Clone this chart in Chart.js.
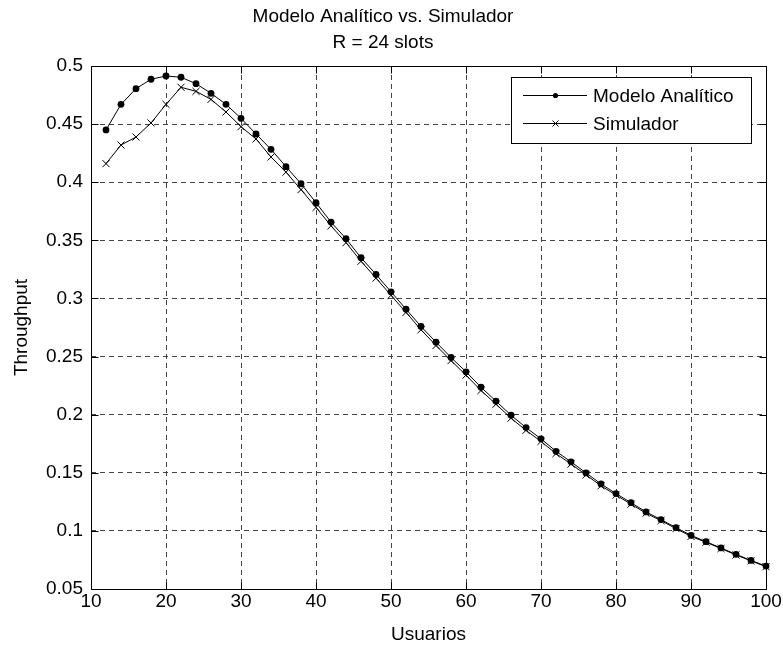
<!DOCTYPE html>
<html>
<head>
<meta charset="utf-8">
<title>Modelo Analítico vs. Simulador</title>
<script src="https://cdn.jsdelivr.net/npm/chart.js@4.4.1/dist/chart.umd.min.js"></script>
<style>
  html, body { margin: 0; padding: 0; background: #fff; }
  canvas { display: block; }
</style>
</head>
<body>
<canvas id="chart" width="783" height="646"></canvas>
<script>
/* ----- datos ----- */
const usuarios = [12, 14, 16, 18, 20, 22, 24, 26, 28, 30, 32, 34, 36, 38, 40, 42, 44, 46, 48, 50,
  52, 54, 56, 58, 60, 62, 64, 66, 68, 70, 72, 74, 76, 78, 80, 82, 84, 86, 88, 90,
  92, 94, 96, 98, 100];

const modeloAnalitico = [0.445, 0.467, 0.4805, 0.4886, 0.4914, 0.4903, 0.4848, 0.4765, 0.467, 0.455,
  0.4415, 0.4283, 0.4134, 0.3987, 0.3824, 0.3657, 0.3514, 0.335, 0.3207, 0.3057,
  0.2908, 0.2759, 0.2624, 0.2492, 0.2369, 0.2236, 0.2116, 0.1995, 0.1889, 0.1792,
  0.1685, 0.1594, 0.1499, 0.1404, 0.1321, 0.1243, 0.1163, 0.1097, 0.1028, 0.0962,
  0.0907, 0.0853, 0.0798, 0.0746, 0.0697];

const simulador = [0.416, 0.432, 0.4389, 0.451, 0.467, 0.4817, 0.4782, 0.4713, 0.4604, 0.4478,
  0.4372, 0.4217, 0.4087, 0.3936, 0.3783, 0.3625, 0.348, 0.332, 0.3175, 0.3027,
  0.288, 0.273, 0.2595, 0.2465, 0.234, 0.2208, 0.209, 0.197, 0.1865, 0.177,
  0.1665, 0.1575, 0.1482, 0.1388, 0.1308, 0.123, 0.1152, 0.1088, 0.102, 0.0952,
  0.0902, 0.0848, 0.0793, 0.0742, 0.0692];

const xTicks = [10, 20, 30, 40, 50, 60, 70, 80, 90, 100];
const yTicks = [0.05, 0.1, 0.15, 0.2, 0.25, 0.3, 0.35, 0.4, 0.45, 0.5];

const titulo = ["Modelo Analítico vs. Simulador", "R = 24 slots"];
const nombres = ["Modelo Analítico", "Simulador"];

const FONT = "'Liberation Sans', Arial, Helvetica, sans-serif";

/* ----- caja, ticks hacia dentro y leyenda estilo MATLAB ----- */
const matlabBox = {
  id: "matlabBox",
  afterDatasetsDraw(chart) {
    const { ctx, chartArea: a, scales } = chart;
    const L = Math.round(a.left) + 0.5, R = Math.round(a.right) + 0.5;
    const T = Math.round(a.top) + 0.5, B = Math.round(a.bottom) + 0.5;
    ctx.save();
    ctx.strokeStyle = "#000";
    ctx.lineWidth = 1;
    ctx.setLineDash([]);
    ctx.strokeRect(L, T, R - L, B - T);

    // ticks hacia dentro
    const tl = 7;
    ctx.beginPath();
    xTicks.forEach(v => {
      const px = Math.round(scales.x.getPixelForValue(v)) + 0.5;
      ctx.moveTo(px, B); ctx.lineTo(px, B - tl);
      ctx.moveTo(px, T); ctx.lineTo(px, T + tl);
    });
    yTicks.forEach(v => {
      const py = Math.round(scales.y.getPixelForValue(v)) + 0.5;
      ctx.moveTo(L, py); ctx.lineTo(L + tl, py);
      ctx.moveTo(R, py); ctx.lineTo(R - tl, py);
    });
    ctx.stroke();

    // leyenda
    const bx = 511.5, by = 77.5, bw = 240, bh = 66;
    ctx.fillStyle = "#fff";
    ctx.fillRect(bx, by, bw, bh);
    ctx.strokeRect(bx, by, bw, bh);
    const rows = [95.5, 123.5];
    ctx.font = "19px " + FONT;
    ctx.textBaseline = "middle";
    ctx.textAlign = "left";
    rows.forEach((y, i) => {
      ctx.beginPath();
      ctx.moveTo(523, y); ctx.lineTo(587, y);
      ctx.stroke();
      if (i === 0) {
        ctx.fillStyle = "#000";
        ctx.beginPath();
        ctx.arc(555.5, y, 2.6, 0, Math.PI * 2);
        ctx.fill();
      } else {
        ctx.beginPath();
        ctx.moveTo(552.5, y - 3); ctx.lineTo(558.5, y + 3);
        ctx.moveTo(558.5, y - 3); ctx.lineTo(552.5, y + 3);
        ctx.stroke();
      }
      ctx.fillStyle = "#000";
      ctx.fillText(nombres[i], 593, y + 1);
    });
    ctx.restore();
  }
};

const puntos = (ys) => usuarios.map((x, i) => ({ x, y: ys[i] }));

new Chart(document.getElementById("chart"), {
  type: "scatter",
  data: {
    datasets: [
      {
        label: nombres[1],
        data: puntos(simulador),
        showLine: true,
        borderColor: "#000",
        borderWidth: 1,
        backgroundColor: "#000",
        pointStyle: "crossRot",
        pointRadius: 5,
        pointBorderWidth: 1,
        pointBorderColor: "#000",
        tension: 0,
        clip: false
      },
      {
        label: nombres[0],
        data: puntos(modeloAnalitico),
        showLine: true,
        borderColor: "#000",
        borderWidth: 1,
        backgroundColor: "#000",
        pointStyle: "circle",
        pointRadius: 3.4,
        pointBorderWidth: 0,
        pointBackgroundColor: "#000",
        tension: 0,
        clip: false
      }
    ]
  },
  options: {
    responsive: false,
    animation: false,
    layout: { padding: { left: 0, right: 17, top: 0, bottom: 0 } },
    plugins: {
      legend: { display: false },
      tooltip: { enabled: false },
      title: {
        display: true,
        text: titulo,
        color: "#000",
        font: { family: FONT, size: 19, weight: "normal", lineHeight: 26 / 19 },
        padding: { top: 4, bottom: 10 }
      }
    },
    scales: {
      x: {
        type: "linear",
        min: 10,
        max: 100,
        afterFit: s => { s.height = 57; },
        afterBuildTicks: s => { s.ticks = xTicks.map(v => ({ value: v })); },
        ticks: {
          color: "#000",
          font: { family: FONT, size: 19 },
          padding: 1,
          maxRotation: 0,
          callback: v => String(v)
        },
        grid: { color: "#444", lineWidth: 1, drawTicks: false },
        border: { display: false, dash: [5, 4] },
        title: {
          display: true,
          text: "Usuarios",
          color: "#000",
          font: { family: FONT, size: 19, lineHeight: 1.2 },
          padding: { top: 0, bottom: 0 }
        }
      },
      y: {
        type: "linear",
        min: 0.05,
        max: 0.5,
        afterFit: s => { s.width = 91; },
        afterBuildTicks: s => { s.ticks = yTicks.map(v => ({ value: v })); },
        ticks: {
          color: "#000",
          font: { family: FONT, size: 19 },
          padding: 8,
          callback: v => String(Math.round(v * 100) / 100)
        },
        grid: { color: "#444", lineWidth: 1, drawTicks: false },
        border: { display: false, dash: [5, 4] },
        title: {
          display: true,
          text: "Throughput",
          color: "#000",
          font: { family: FONT, size: 19, lineHeight: 1.2 },
          padding: { top: 10, bottom: 0 }
        }
      }
    }
  },
  plugins: [matlabBox]
});
</script>
</body>
</html>
